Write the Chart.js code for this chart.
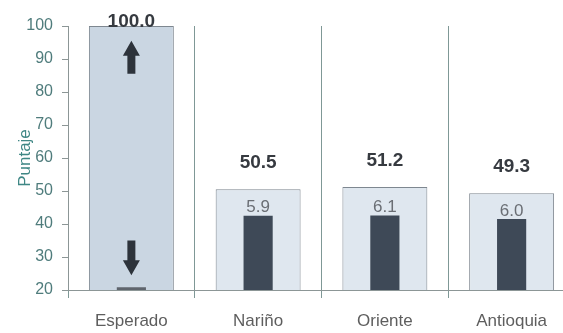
<!DOCTYPE html>
<html><head><meta charset="utf-8">
<script src="https://cdn.jsdelivr.net/npm/chart.js@4"></script>
<style>
html,body{margin:0;padding:0;background:#fff;overflow:hidden;width:563px;height:333px}
#wrap{width:563px;height:333px;overflow:hidden;position:relative}
canvas{display:block}
</style></head><body>
<div id="wrap"><canvas id="c" width="580" height="333"></canvas></div>
<script>
// ---- data ----
const categories = ['Esperado', 'Nariño', 'Oriente', 'Antioquia'];
const puntajes = [100.0, 50.5, 51.2, 49.3];        // light (outer) bars, bold labels
const barraInterna = [20.8, 42.5, 42.6, 41.5];     // dark (inner) bars, estimated
const desviacion = [null, 5.9, 6.1, 6.0];          // small labels above dark bars
const yMin = 20, yMax = 100, yStep = 10;           // y tick labels 20..100
const flechaArriba = [85.5, 95.5];                 // up arrow span (value units)
const flechaAbajo = [35.0, 24.5];                  // down arrow span (value units)

function drawArrow(ctx, x, yFrom, yTo) {
  const dir = yTo < yFrom ? -1 : 1;
  const headLen = 15, headW = 8.5, shaftW = 4;
  const yHead = yTo - dir * headLen;
  ctx.fillStyle = '#2d333b';
  ctx.beginPath();
  ctx.moveTo(x - shaftW, yFrom);
  ctx.lineTo(x - shaftW, yHead);
  ctx.lineTo(x - headW, yHead);
  ctx.lineTo(x, yTo);
  ctx.lineTo(x + headW, yHead);
  ctx.lineTo(x + shaftW, yHead);
  ctx.lineTo(x + shaftW, yFrom);
  ctx.closePath();
  ctx.fill();
}

const labelsPlugin = {
  id: 'labelsPlugin',
  afterDatasetsDraw(chart) {
    const ctx = chart.ctx;
    const ys = chart.scales.y;
    const dark = chart.getDatasetMeta(0).data;
    const light = chart.getDatasetMeta(1).data;
    ctx.save();
    ctx.textAlign = 'center';
    ctx.textBaseline = 'alphabetic';
    ctx.font = "bold 19px 'Liberation Sans', Arial, sans-serif";
    ctx.fillStyle = '#363a40';
    light.forEach((bar, i) => {
      const by = Math.max(bar.y - 21, 27);
      ctx.fillText(puntajes[i].toFixed(1), bar.x, by);
    });
    ctx.font = "17px 'Liberation Sans', Arial, sans-serif";
    ctx.fillStyle = '#6a6e74';
    dark.forEach((bar, i) => {
      if (desviacion[i] == null) return;
      ctx.fillText(desviacion[i].toFixed(1), bar.x, bar.y - 3.5);
    });
    const x0 = light[0].x;
    drawArrow(ctx, x0, ys.getPixelForValue(flechaArriba[0]), ys.getPixelForValue(flechaArriba[1]));
    drawArrow(ctx, x0, ys.getPixelForValue(flechaAbajo[0]), ys.getPixelForValue(flechaAbajo[1]));
    ctx.restore();
  }
};

new Chart(document.getElementById('c'), {
  type: 'bar',
  data: {
    labels: categories,
    datasets: [
      {
        label: 'interna',
        data: barraInterna,
        grouped: false,
        order: 0,
        backgroundColor: ['#5f656d', '#3e4957', '#3e4957', '#3e4957'],
        borderWidth: 0,
        barPercentage: 0.23,
        categoryPercentage: 1.0
      },
      {
        label: 'puntaje',
        data: puntajes,
        grouped: false,
        order: 1,
        backgroundColor: ['#cad6e2', '#dfe7ef', '#dfe7ef', '#dfe7ef'],
        borderColor: '#7e8790',
        borderWidth: 1,
        barPercentage: 0.67,
        categoryPercentage: 1.0
      }
    ]
  },
  options: {
    responsive: false,
    animation: false,
    layout: { padding: { top: 26, left: 0, right: 5, bottom: 0 } },
    plugins: { legend: { display: false }, tooltip: { enabled: false } },
    scales: {
      x: {
        offset: true,
        grid: { offset: true, drawOnChartArea: true, color: '#7f9896', lineWidth: 1, tickLength: 8 },
        border: { display: true, color: '#8c9696' },
        ticks: { font: { family: "'Liberation Sans', Arial, sans-serif", size: 17 }, color: '#5e5e5e', padding: 13 },
        afterFit(s) { s.height = 43; }
      },
      y: {
        min: yMin, max: yMax,
        ticks: { stepSize: yStep, font: { family: "'Liberation Sans Narrow', 'Liberation Sans', Arial, sans-serif", size: 16 }, color: '#4f7c7c', padding: 9 },
        grid: { drawOnChartArea: false, tickLength: 6, color: '#8c9696' },
        border: { display: true, color: '#8c9696' },
        title: { display: true, text: 'Puntaje', color: '#3f8785', font: { family: "'Liberation Sans', Arial, sans-serif", size: 17 }, padding: { top: 15, bottom: 0 } },
        afterFit(s) { s.width = 68; }
      }
    }
  },
  plugins: [labelsPlugin]
});
</script>
</body></html>
